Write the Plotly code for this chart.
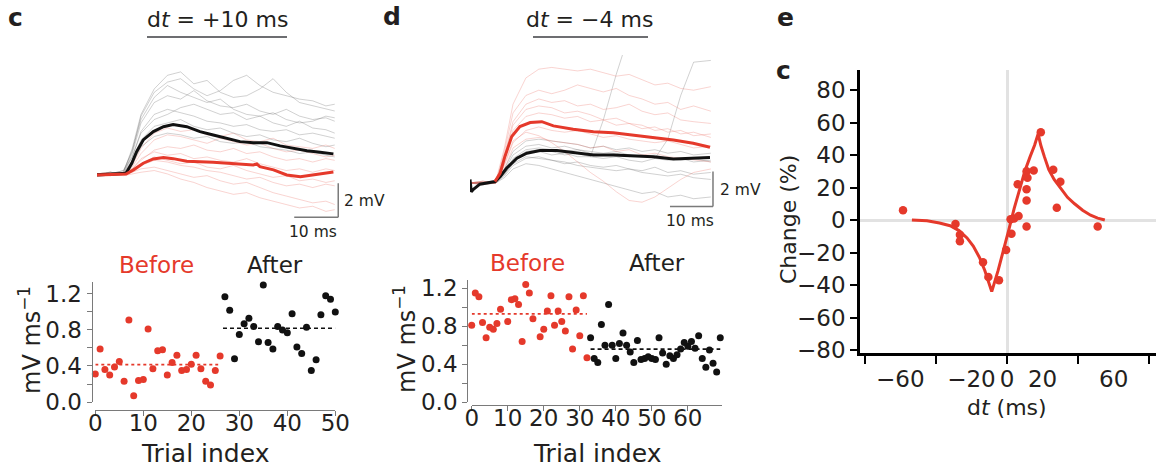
import plotly.graph_objects as go

W, H = 1156, 473
FONT = "DejaVu Sans"
RED = "#e5392b"
BLACK = "#111111"
TXT = "#231f20"
AXGREY = "#7a7a7a"

# ---------------- data: panel c traces (ms, mV) ----------------
C_T_AFTER_MEAN = [0, 6.6, 7.9, 9.0, 10.5, 12.8, 15.1, 17.3, 20.4, 23.4, 26.4, 29.5, 32.5, 35.5, 38.6, 41.6, 44.6, 47.7, 50.7, 53.7]
C_V_AFTER_MEAN = [-0.06, 0.04, 0.63, 1.31, 2.0, 2.49, 2.78, 2.90, 2.78, 2.49, 2.29, 2.10, 1.90, 1.84, 1.84, 1.65, 1.51, 1.37, 1.27, 1.18]
C_T_BEFORE_MEAN = [0, 6.6, 8.3, 10.5, 12.8, 15.1, 17.3, 20.4, 26.4, 31.0, 35.5, 36.3, 37.0, 40.1, 43.1, 46.2, 49.2, 53.7]
C_V_BEFORE_MEAN = [-0.06, 0.0, 0.24, 0.63, 0.88, 0.96, 0.90, 0.75, 0.69, 0.59, 0.53, 0.59, 0.43, 0.24, -0.06, -0.16, -0.06, 0.12]

C_T_TRIALS = [0, 3, 6, 8, 10, 13, 16, 19, 22, 25, 28, 31, 34, 37, 40, 43, 46, 49, 52, 54]
C_AFTER_TRIALS = [
    [0, 0, 0.1, 1.5, 3.5, 5.0, 5.8, 6.0, 5.3, 5.5, 4.8, 4.5, 4.6, 5.0, 5.6, 4.8, 4.2, 4.0, 3.8, 3.7],
    [0, 0.1, 0, 1.2, 3.0, 4.2, 4.6, 4.4, 4.9, 4.3, 4.0, 3.9, 4.1, 3.7, 3.5, 3.8, 3.4, 3.2, 3.3, 3.1],
    [0, 0, 0.2, 1.0, 2.5, 3.5, 3.8, 3.6, 3.4, 3.1, 3.0, 2.8, 2.9, 2.6, 2.5, 2.6, 2.3, 2.4, 2.2, 2.1],
    [0, -0.1, 0, 0.8, 2.0, 2.8, 3.0, 3.2, 2.8, 2.6, 2.7, 2.4, 2.2, 2.3, 2.0, 1.9, 2.1, 1.8, 1.6, 1.7],
    [0, 0, 0.1, 1.4, 3.2, 4.5, 5.2, 4.8, 4.5, 4.2, 4.4, 3.8, 3.5, 3.4, 3.6, 3.2, 3.0, 3.1, 3.4, 3.3],
    [0, 0.1, 0, 0.6, 1.6, 2.2, 2.4, 2.3, 2.1, 2.2, 1.9, 1.8, 1.9, 1.6, 1.5, 1.4, 1.2, 1.3, 1.1, 1.0],
    [0, 0, 0.2, 1.3, 3.4, 4.8, 5.4, 5.6, 5.0, 4.6, 4.9, 5.5, 5.8, 5.2, 4.8, 4.6, 4.4, 4.3, 4.0, 4.1],
    [0, 0, 0, 1.0, 2.4, 3.2, 3.5, 3.9, 4.1, 3.8, 3.5, 3.6, 3.2, 3.4, 3.0, 2.8, 3.1, 2.7, 2.6, 2.4],
]
C_BEFORE_TRIALS = [
    [0, 0, 0, 0.3, 0.8, 1.4, 1.6, 1.5, 1.7, 1.4, 1.3, 1.5, 1.2, 1.3, 1.0, 0.8, 0.9, 0.7, 0.9, 0.8],
    [0, -0.1, 0, 0.2, 0.5, 0.8, 0.7, 0.5, 0.4, 0.2, 0.1, -0.1, -0.3, -0.2, -0.5, -0.7, -0.6, -0.8, -0.6, -0.7],
    [0, 0.1, 0, 0.4, 1.2, 2.0, 2.3, 2.2, 2.0, 1.8, 2.1, 1.9, 1.7, 1.8, 1.5, 1.3, 1.4, 1.2, 1.0, 1.1],
    [0, 0, -0.1, 0, 0.1, 0.2, 0, -0.3, -0.5, -0.8, -1.0, -1.2, -1.1, -1.4, -1.6, -1.8, -2.0, -1.9, -2.2, -2.1],
    [0, 0, 0.1, 0.3, 0.9, 1.3, 1.1, 1.2, 0.9, 1.0, 0.8, 0.7, 0.9, 0.6, 0.4, 0.2, 0.3, 0.1, 0.3, 0.2],
    [0, 0, 0, 0.1, 0.3, 0.4, 0.2, 0.0, -0.2, -0.1, -0.4, -0.6, -0.5, -0.8, -1.1, -1.3, -1.5, -1.7, -1.6, -1.8],
    [0, 0.1, 0, 0.5, 1.5, 2.4, 2.7, 2.5, 2.6, 2.3, 2.2, 2.4, 2.0, 1.9, 2.1, 1.7, 1.6, 1.5, 1.7, 1.5],
    [0, 0, 0, 0.2, 0.6, 1.0, 0.8, 0.6, 0.7, 0.4, 0.3, 0.5, 0.2, 0.0, -0.2, -0.1, -0.4, -0.3, -0.5, -0.4],
]

# ---------------- data: panel d traces (ms, mV) ----------------
D_T_AFTER_MEAN = [0, 0.3, 0.8, 2.3, 5.8, 7.0, 8.5, 10.9, 13.2, 16.3, 20.2, 24.0, 28.7, 33.3, 38.0, 42.6, 47.3, 51.9, 55.8]
D_V_AFTER_MEAN = [0.2, -0.5, -0.36, -0.07, 0.08, 0.36, 0.84, 1.41, 1.70, 1.85, 1.85, 1.73, 1.60, 1.60, 1.54, 1.50, 1.37, 1.41, 1.45]
D_T_BEFORE_MEAN = [5.8, 7.0, 8.1, 9.7, 11.6, 14.0, 16.7, 19.4, 24.0, 28.7, 33.3, 38.0, 42.6, 47.3, 51.9, 55.8]
D_V_BEFORE_MEAN = [0.08, 0.55, 1.50, 2.65, 3.22, 3.45, 3.50, 3.26, 3.07, 2.93, 2.87, 2.74, 2.61, 2.46, 2.27, 2.04]

D_T_TRIALS = [0, 3, 6, 8, 10, 13, 16, 19, 22, 25, 28, 31, 34, 37, 40, 43, 46, 49, 52, 56]
D_BEFORE_TRIALS = [
    [0, 0, 0.1, 2.0, 4.5, 6.0, 6.5, 6.6, 6.5, 6.4, 6.5, 6.3, 6.1, 6.2, 5.9, 5.6, 5.7, 5.4, 5.3, 5.5],
    [0, 0.1, 0, 1.6, 3.5, 4.5, 4.8, 4.6, 4.7, 4.4, 4.5, 4.2, 4.3, 4.5, 4.1, 3.9, 4.0, 3.6, 3.5, 3.4],
    [0, 0, 0.1, 1.3, 3.0, 3.8, 4.0, 3.9, 3.7, 3.8, 3.5, 3.6, 3.3, 3.4, 3.1, 3.2, 2.9, 3.0, 2.7, 2.8],
    [0, 0, 0, 1.0, 2.3, 3.0, 3.2, 3.0, 2.9, 3.0, 2.8, 2.6, 2.7, 2.5, 2.4, 2.3, 2.4, 2.2, 2.0, 2.1],
    [0, -0.1, 0, 1.1, 2.4, 2.9, 2.7, 2.3, 1.8, 1.2, 0.6, 0.1, -0.5, -1.0, -1.1, -0.8, -0.3, 0.2, 0.6, 0.8],
    [0, 0, 0.1, 1.5, 3.3, 4.2, 4.4, 4.3, 4.0, 4.1, 3.9, 3.6, 3.7, 3.4, 3.3, 3.0, 3.1, 2.8, 2.9, 2.6],
    [0, 0, 0, 0.8, 2.0, 2.5, 2.6, 2.4, 2.3, 2.2, 2.0, 2.1, 1.8, 1.9, 1.6, 1.7, 1.5, 1.4, 1.3, 1.2],
    [0, 0.1, 0, 1.8, 4.0, 5.0, 5.3, 5.1, 5.3, 5.6, 5.4, 5.2, 5.4, 5.0, 4.8, 4.5, 4.6, 4.2, 4.4, 4.1],
]
D_AFTER_TRIALS = [
    [0, 0, 0, 0.6, 1.4, 1.9, 2.0, 1.9, 1.8, 1.9, 1.7, 1.6, 1.7, 1.5, 1.6, 1.4, 1.3, 1.4, 1.2, 1.3],
    [0, -0.1, 0, 0.4, 1.0, 1.4, 1.5, 1.3, 1.2, 1.0, 0.9, 0.8, 0.7, 0.8, 0.6, 0.5, 0.4, 0.5, 0.3, 0.2],
    [0, 0, 0.1, 0.8, 1.8, 2.4, 2.5, 2.4, 2.3, 2.2, 2.0, 2.1, 1.9, 2.0, 1.8, 1.9, 1.7, 1.8, 1.6, 1.7],
    [0, 0, 0, 0.3, 0.8, 1.1, 1.0, 0.8, 0.6, 0.4, 0.2, 0.0, -0.2, -0.4, -0.6, -0.5, -0.8, -0.7, -0.9, -0.8],
    [0, 0.1, 0, 0.5, 1.2, 1.7, 1.8, 1.6, 1.7, 1.5, 1.5, 3.6, 6.2, 8.5, None, None, None, None, None, None],
    [0, 0, 0, 0.7, 1.6, 2.1, 2.2, 2.0, 2.1, 1.9, 1.8, 1.7, 1.8, 1.6, 1.5, 1.6, 1.4, 1.3, 1.4, 1.2],
    [0, 0, 0.1, 0.5, 1.1, 1.5, 1.4, 1.3, 1.1, 1.2, 1.0, 0.9, 1.0, 0.8, 0.7, 0.9, 0.6, 0.7, 0.5, 0.6],
    [0, 0, 0, 0.6, 1.3, 1.8, 1.9, 1.8, 1.6, 1.7, 1.5, 1.4, 1.5, 1.3, 1.2, 1.4, 2.5, 5.0, 6.9, 7.0],
]
SCALE_MS = 10
SCALE_MV = 2

# ---------------- data: panel c scatter ----------------
C_BEFORE_IDX = list(range(0, 27))
C_BEFORE_VAL = [0.31, 0.59, 0.36, 0.30, 0.39, 0.45, 0.23, 0.91, 0.07, 0.24, 0.25, 0.81, 0.37, 0.57,
                0.58, 0.30, 0.44, 0.52, 0.35, 0.36, 0.42, 0.52, 0.37, 0.23, 0.19, 0.35, 0.51]
C_AFTER_IDX = list(range(27, 51))
C_AFTER_VAL = [1.17, 1.02, 0.48, 0.75, 0.87, 0.93, 0.84, 0.67, 1.30, 0.66, 0.59, 0.84, 0.80, 0.77,
               0.98, 0.61, 0.54, 0.83, 0.35, 0.47, 0.97, 1.18, 1.14, 1.00]
C_BEFORE_MEAN = 0.415
C_AFTER_MEAN = 0.82
C_BEFORE_SPAN = [0, 25.6]
C_AFTER_SPAN = [26.6, 50]

# ---------------- data: panel d scatter ----------------
D_BEFORE_IDX = list(range(0, 33))
D_BEFORE_VAL = [0.81, 1.15, 1.11, 0.84, 0.68, 0.79, 0.77, 0.83, 0.98, 1.29, 0.85, 1.08, 1.09, 1.03,
                0.64, 1.24, 1.15, 0.88, 1.30, 0.69, 0.77, 0.96, 1.12, 0.81, 0.96, 0.85, 0.75, 1.11,
                0.56, 0.97, 0.70, 1.12, 0.47]
D_AFTER_IDX = list(range(33, 70))
D_AFTER_VAL = [0.68, 0.46, 0.42, 0.82, 0.60, 1.03, 0.60, 0.46, 0.62, 0.73, 0.60, 0.53, 0.42, 0.65,
               0.45, 0.46, 0.48, 0.46, 0.45, 0.68, 0.52, 0.40, 0.49, 0.46, 0.50, 0.56, 0.63, 0.59,
               0.64, 0.57, 0.70, 0.46, 0.37, 0.55, 0.41, 0.32, 0.68]
D_BEFORE_MEAN = 0.93
D_AFTER_MEAN = 0.56
D_BEFORE_SPAN = [0, 32]
D_AFTER_SPAN = [33, 69]

# ---------------- data: panel e ----------------
E_DT = [-58.5, -29, -26.5, -26.5, -13.5, -10.5, -4.5, -0.5, 2.5, 2, 4, 6.5, 6, 11, 11, 11, 11.5,
        11, 15, 10.5, 19, 26, 30, 28, 51]
E_CHANGE = [6, -2.5, -9, -13, -26, -35, -37, -18.5, -8.5, 0.5, 1, 2.5, 22, 19, 12, 30, 26,
            -4, 30.5, 96, 54, 31, 23.5, 7.5, -4]
E_FIT_DT = [-53.5, -45, -38, -32, -27, -22.5, -19, -15.5, -12.5, -10.5, -8.6, -5, -2, 1, 4, 7,
            10, 13, 15.5, 17.5, 19, 21, 23.5, 26.5, 30, 34, 38, 42.5, 47, 51, 55]
E_FIT_CHANGE = [0, -0.5, -1.8, -3.5, -6.5, -11, -16, -23, -31, -38, -44, -31, -19, -6, 7, 19,
                30, 39, 46, 53, 46, 39, 31, 25, 20, 14, 10, 6, 3, 1.2, 0]
E_XTICKS = [-80, -40, 0, 40, 80]
E_XLABELS = [-60, -20, 0, 20, 60]


def px(x):
    return x / W


def py(y):
    return 1 - y / H


fig = go.Figure()

# ---- trace panels ----
def add_trials(t, trials, color, xa, ya):
    for tr in trials:
        fig.add_trace(go.Scatter(x=t, y=tr, mode="lines", line=dict(color=color, width=1),
                                 xaxis=xa, yaxis=ya, hoverinfo="skip", connectgaps=False))


add_trials(C_T_TRIALS, C_BEFORE_TRIALS, "rgba(232,100,90,0.28)", "x", "y")
add_trials(C_T_TRIALS, C_AFTER_TRIALS, "rgba(90,90,90,0.28)", "x", "y")
fig.add_trace(go.Scatter(x=C_T_AFTER_MEAN, y=C_V_AFTER_MEAN, mode="lines",
                         line=dict(color=BLACK, width=3), xaxis="x", yaxis="y"))
fig.add_trace(go.Scatter(x=C_T_BEFORE_MEAN, y=C_V_BEFORE_MEAN, mode="lines",
                         line=dict(color=RED, width=3), xaxis="x", yaxis="y"))

add_trials(D_T_TRIALS, D_AFTER_TRIALS, "rgba(90,90,90,0.28)", "x2", "y2")
add_trials(D_T_TRIALS, D_BEFORE_TRIALS, "rgba(232,100,90,0.28)", "x2", "y2")
fig.add_trace(go.Scatter(x=D_T_AFTER_MEAN, y=D_V_AFTER_MEAN, mode="lines",
                         line=dict(color=BLACK, width=3), xaxis="x2", yaxis="y2"))
fig.add_trace(go.Scatter(x=D_T_BEFORE_MEAN, y=D_V_BEFORE_MEAN, mode="lines",
                         line=dict(color=RED, width=3), xaxis="x2", yaxis="y2"))

# ---- scatter panels ----
def add_scatter(idx, val, color, xa, ya):
    fig.add_trace(go.Scatter(x=idx, y=val, mode="markers", marker=dict(color=color, size=7),
                             xaxis=xa, yaxis=ya, cliponaxis=False))


def add_mean(span, mean, color, dash, xa, ya):
    fig.add_trace(go.Scatter(x=span, y=[mean, mean], mode="lines",
                             line=dict(color=color, width=1.6, dash=dash),
                             xaxis=xa, yaxis=ya, cliponaxis=False))


add_mean(C_BEFORE_SPAN, C_BEFORE_MEAN, RED, "dot", "x3", "y3")
add_mean(C_AFTER_SPAN, C_AFTER_MEAN, BLACK, "4px,3px", "x3", "y3")
add_scatter(C_BEFORE_IDX, C_BEFORE_VAL, RED, "x3", "y3")
add_scatter(C_AFTER_IDX, C_AFTER_VAL, BLACK, "x3", "y3")

add_mean(D_BEFORE_SPAN, D_BEFORE_MEAN, RED, "dot", "x4", "y4")
add_mean(D_AFTER_SPAN, D_AFTER_MEAN, BLACK, "4px,3px", "x4", "y4")
add_scatter(D_BEFORE_IDX, D_BEFORE_VAL, RED, "x4", "y4")
add_scatter(D_AFTER_IDX, D_AFTER_VAL, BLACK, "x4", "y4")

# ---- panel e ----
fig.add_trace(go.Scatter(x=E_FIT_DT, y=E_FIT_CHANGE, mode="lines", line=dict(color=RED, width=3),
                         xaxis="x5", yaxis="y5", cliponaxis=False))
fig.add_trace(go.Scatter(x=E_DT, y=E_CHANGE, mode="markers", marker=dict(color=RED, size=8.5),
                         xaxis="x5", yaxis="y5", cliponaxis=False))
fig.add_trace(go.Scatter(x=[None], y=[None], xaxis="x6", yaxis="y5", showlegend=False))

hidden = dict(visible=False, showgrid=False, zeroline=False, automargin=False)
tickfont = dict(family=FONT, size=23, color=TXT)

scatter_x = dict(showline=True, linecolor=AXGREY, linewidth=1.3, ticks="outside", ticklen=5,
                 tickcolor=AXGREY, tickwidth=1.3, dtick=10, tick0=0, showgrid=False,
                 zeroline=False, tickfont=tickfont, anchor="free", automargin=False,
                 ticklabelstandoff=-13)
scatter_y = dict(showline=True, linecolor=AXGREY, linewidth=1.3, ticks="outside", ticklen=5,
                 tickcolor=AXGREY, tickwidth=1.3, dtick=0.4, tick0=0, tickformat=".1f",
                 showgrid=False, zeroline=False, tickfont=tickfont, anchor="free",
                 automargin=False,
                 minor=dict(dtick=0.2, tick0=0, ticks="outside", ticklen=5,
                            tickcolor=AXGREY, tickwidth=1.3))

e_font = dict(family=FONT, size=23, color=TXT)
E_RANGE_X = [-82.7, 83.8]

fig.update_layout(
    width=W, height=H, margin=dict(l=0, r=0, t=0, b=0, autoexpand=False),
    paper_bgcolor="white", plot_bgcolor="rgba(0,0,0,0)", showlegend=False,
    xaxis=dict(domain=[px(97), px(340)], range=[0, 55.2], anchor="y", **hidden),
    yaxis=dict(domain=[py(235), py(60)], range=[-3.59, 6.7], anchor="x", **hidden),
    xaxis2=dict(domain=[px(470), px(716)], range=[0, 57.2], anchor="y2", **hidden),
    yaxis2=dict(domain=[py(215), py(55)], range=[-1.83, 7.31], anchor="x2", **hidden),
    xaxis3=dict(domain=[px(95.3), px(335.3)], range=[0, 50], position=py(410), **scatter_x),
    yaxis3=dict(domain=[py(402), py(282)], range=[0, 1.333], position=px(91.7), **scatter_y),
    xaxis4=dict(domain=[px(471.7), px(721.7)], range=[0, 69.4], position=py(405), **scatter_x),
    yaxis4=dict(domain=[py(402.3), py(280)], range=[0, 1.287], position=px(467.3), **scatter_y),
    xaxis5=dict(domain=[px(860), px(1156)], range=E_RANGE_X, anchor="y5", automargin=False,
                showline=True, linecolor="black", linewidth=2.5, ticks="outside", ticklen=8,
                tickwidth=2, tickcolor="black", tickvals=E_XTICKS, showticklabels=False,
                showgrid=False, zeroline=True, zerolinecolor="#e2e2e2", zerolinewidth=2.5),
    xaxis6=dict(overlaying="x5", anchor="y5", range=E_RANGE_X, showline=False, automargin=False,
                ticks="outside", ticklen=8, tickcolor="rgba(0,0,0,0)",
                tickvals=E_XLABELS, ticktext=[f"{v}".replace("-", "\u2212") for v in E_XLABELS],
                tickfont=e_font, showgrid=False, zeroline=False, ticklabelstandoff=-3),
    yaxis5=dict(domain=[py(353), py(70)], range=[-81.8, 92.3], anchor="x5", automargin=False,
                showline=True, linecolor="black", linewidth=2.5, ticks="outside", ticklen=7,
                tickwidth=2, tickcolor="black", dtick=20, tick0=0, tickfont=e_font,
                showgrid=False, zeroline=True, zerolinecolor="#e2e2e2", zerolinewidth=2.5),
)

# ---- scale bars ----
shapes = []
def bar(xa, ya, x0, x1, y0, y1):
    shapes.append(dict(type="line", xref=xa, yref=ya, x0=x0, x1=x1, y0=y0, y1=y1,
                       line=dict(color="#7a7a7a", width=1.5)))

C_BAR_T, C_BAR_V = 54.8, -2.55
bar("x", "y", C_BAR_T, C_BAR_T, C_BAR_V, C_BAR_V + SCALE_MV)
bar("x", "y", C_BAR_T - SCALE_MS, C_BAR_T, C_BAR_V, C_BAR_V)
D_BAR_T, D_BAR_V = 56.5, -1.35
bar("x2", "y2", D_BAR_T, D_BAR_T, D_BAR_V, D_BAR_V + SCALE_MV)
bar("x2", "y2", D_BAR_T - SCALE_MS, D_BAR_T, D_BAR_V, D_BAR_V)

# title underlines
for x0, x1 in [(147, 287), (533, 648)]:
    shapes.append(dict(type="line", xref="paper", yref="paper", x0=px(x0), x1=px(x1),
                       y0=py(37), y1=py(37), line=dict(color="#6d6e71", width=2)))
fig.update_layout(shapes=shapes)


def ann(text, x, y, size, color=TXT, angle=0, xanchor="center", family=FONT):
    return dict(text=text, x=px(x), y=py(y), xref="paper", yref="paper", showarrow=False,
                xanchor=xanchor, yanchor="middle", textangle=angle,
                font=dict(family=family, size=size, color=color))


anns = [
    ann("<b>c</b>", 15, 18, 25), ann("<b>d</b>", 392, 17, 25), ann("<b>e</b>", 785, 18, 25),
    ann("<b>c</b>", 783, 70, 25),
    ann("d<i>t</i> = +10 ms", 217, 19, 22), ann("d<i>t</i> = \u22124 ms", 589, 19, 22),
    ann("2 mV", 342, 201, 15.5, xanchor="left"), ann("10 ms", 313, 232, 15.5),
    ann("2 mV", 718, 190, 15.5, xanchor="left"), ann("10 ms", 690, 221, 15.5),
    ann("Before", 156, 265, 23, color=RED), ann("After", 275, 265, 23),
    ann("Before", 527, 263, 23, color=RED), ann("After", 657, 263, 23),
    ann("mV ms<sup>\u22121</sup>", 30, 340, 24, angle=-90),
    ann("mV ms<sup>\u22121</sup>", 405, 339, 24, angle=-90),
    ann("Trial index", 205, 453, 25), ann("Trial index", 597, 453, 25),
    ann("d<i>t</i> (ms)", 1007, 407, 22),
    ann("Change (%)", 789, 220, 22, angle=-90),
]
fig.update_layout(annotations=anns)

fig.write_html("out.html", config={"displayModeBar": False},
               post_script="document.body.style.margin='0';document.body.style.overflow='hidden';")
